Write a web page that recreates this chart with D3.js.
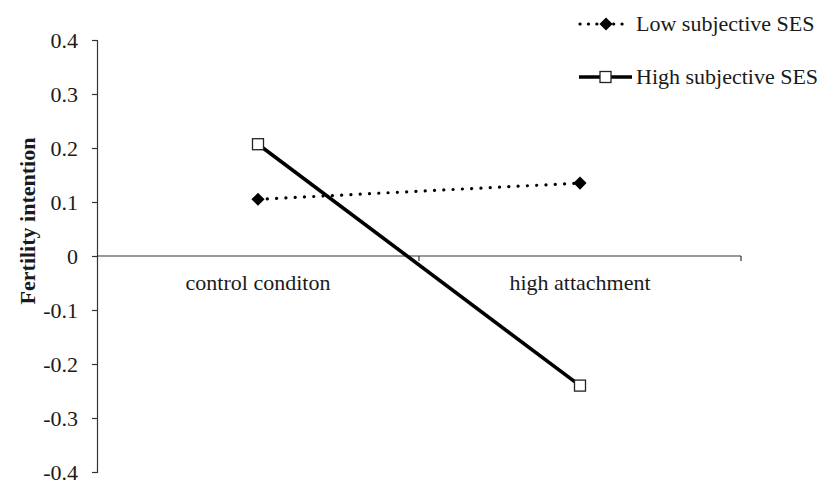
<!DOCTYPE html>
<html>
<head>
<meta charset="utf-8">
<script src="https://cdn.jsdelivr.net/npm/d3@7"></script>
<style>
  body { margin: 0; background: #fff; }
  text { font-family: "Liberation Serif", "Times New Roman", serif; fill: #1a1a1a; }
</style>
</head>
<body>
<div id="chart"></div>
<script>
// data
let conditions = ["control conditon", "high attachment"];
let seriesNames = ["Low subjective SES", "High subjective SES"];
let lowSES = [0.105, 0.135];
let highSES = [0.207, -0.240];
let yTicks = [0.4, 0.3, 0.2, 0.1, 0, -0.1, -0.2, -0.3, -0.4];

let width = 828, height = 482;
let margin = {top: 40, right: 87, bottom: 10, left: 97};

let svg = d3.select("#chart")
    .append("svg")
    .attr("width", width)
    .attr("height", height);

let y = d3.scaleLinear()
    .domain([-0.4, 0.4])
    .range([472, 40]);

let x = d3.scaleBand()
    .domain(conditions)
    .range([margin.left, width - margin.right]);

// y axis
let yAxis = svg.append("g")
    .attr("transform", `translate(${margin.left},0)`)
    .call(d3.axisLeft(y).tickValues(yTicks).tickSize(5).tickPadding(14)
        .tickFormat(d => d === 0 ? "0" : d3.format(".1f")(d).replace("−", "-")));
yAxis.select(".domain").attr("stroke", "#333").attr("stroke-width", 1.2);
yAxis.selectAll(".tick line").attr("stroke", "#333").attr("stroke-width", 1.2);
yAxis.selectAll("text")
    .style("font-family", "Liberation Serif")
    .style("font-size", "22px")
    .attr("fill", "#1a1a1a");

// x axis at zero, ticks on band boundaries
let xAxisG = svg.append("g");
xAxisG.append("line")
    .attr("x1", margin.left).attr("x2", width - margin.right)
    .attr("y1", y(0)).attr("y2", y(0))
    .attr("stroke", "#333").attr("stroke-width", 1.2);
let bounds = conditions.map(c => x(c) + x.bandwidth());
xAxisG.selectAll("line.tk").data(bounds).enter().append("line")
    .attr("class", "tk")
    .attr("x1", d => d).attr("x2", d => d)
    .attr("y1", y(0)).attr("y2", y(0) + 5)
    .attr("stroke", "#333").attr("stroke-width", 1.2);
xAxisG.selectAll("text").data(conditions).enter().append("text")
    .attr("x", d => x(d) + x.bandwidth() / 2)
    .attr("y", y(0) + 34)
    .style("text-anchor", "middle")
    .style("font-size", "22px")
    .text(d => d);

// y axis label
svg.append("text")
    .attr("transform", `translate(35, 221) rotate(-90)`)
    .style("text-anchor", "middle")
    .style("font-size", "22px")
    .style("font-weight", "bold")
    .text("Fertility intention");

let line = d3.line()
    .x((d, i) => x(conditions[i]) + x.bandwidth() / 2)
    .y(d => y(d));

// low SES: dotted line, filled diamonds
svg.append("path")
    .datum(lowSES)
    .attr("d", line)
    .attr("fill", "none")
    .attr("stroke", "#000")
    .attr("stroke-width", 3.2)
    .attr("stroke-linecap", "round")
    .attr("stroke-dasharray", "0.1 9.2");

let diamond = d3.symbol().type(d3.symbolDiamond2).size(110);
svg.selectAll("path.low").data(lowSES).enter().append("path")
    .attr("class", "low")
    .attr("d", diamond)
    .attr("transform", (d, i) => `translate(${x(conditions[i]) + x.bandwidth() / 2},${y(d)})`)
    .attr("fill", "#000");

// high SES: solid line, open squares
svg.append("path")
    .datum(highSES)
    .attr("d", line)
    .attr("fill", "none")
    .attr("stroke", "#000")
    .attr("stroke-width", 3.6);

svg.selectAll("rect.high").data(highSES).enter().append("rect")
    .attr("class", "high")
    .attr("x", (d, i) => x(conditions[i]) + x.bandwidth() / 2 - 5.5)
    .attr("y", d => y(d) - 5.5)
    .attr("width", 11).attr("height", 11)
    .attr("fill", "#fff")
    .attr("stroke", "#222")
    .attr("stroke-width", 1.3);

// legend
let legend = svg.append("g");
let legRows = [
  {name: seriesNames[0], y: 24, dotted: true},
  {name: seriesNames[1], y: 77, dotted: false}
];
legRows.forEach(r => {
  legend.append("line")
    .attr("x1", r.dotted ? 580 : 579).attr("x2", r.dotted ? 630 : 632)
    .attr("y1", r.y).attr("y2", r.y)
    .attr("stroke", "#000")
    .attr("stroke-width", r.dotted ? 3.2 : 3.6)
    .attr("stroke-linecap", r.dotted ? "round" : "butt")
    .attr("stroke-dasharray", r.dotted ? "0.1 8.3" : null);
  if (r.dotted) {
    legend.append("path")
      .attr("d", diamond)
      .attr("transform", `translate(606,${r.y})`)
      .attr("fill", "#000");
  } else {
    legend.append("rect")
      .attr("x", 600).attr("y", r.y - 5.5)
      .attr("width", 11).attr("height", 11)
      .attr("fill", "#fff").attr("stroke", "#222").attr("stroke-width", 1.3);
  }
  legend.append("text")
    .attr("x", 636).attr("y", r.y + 7)
    .style("font-size", "22px")
    .text(r.name);
});
</script>
</body>
</html>
